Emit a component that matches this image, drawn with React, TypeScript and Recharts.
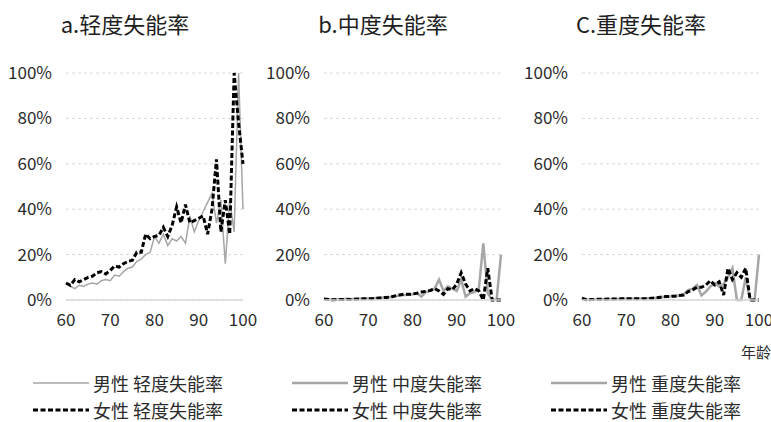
import React from 'react';
import { LineChart, Line, XAxis, YAxis, CartesianGrid } from 'recharts';

const ages = [60, 61, 62, 63, 64, 65, 66, 67, 68, 69, 70, 71, 72, 73, 74, 75, 76, 77, 78, 79, 80, 81, 82, 83, 84, 85, 86, 87, 88, 89, 90, 91, 92, 93, 94, 95, 96, 97, 98, 99, 100];

const mildMale = [7, 6, 5, 6.5, 6, 7, 7.5, 7, 8.5, 9, 8.5, 11, 10.5, 12.5, 14, 14.5, 17, 18, 20, 21, 28, 25, 29, 24, 27, 26, 28, 25, 37, 30, 35, 39, 43, 47, 34, 44, 16, 44, 30, 100, 40];
const mildFemale = [7.5, 6.5, 9, 8, 9, 10, 10.5, 12, 12.5, 11.5, 13, 15, 14.5, 16, 17, 17.5, 21, 21, 29, 27, 28, 28.5, 32, 28, 33, 41, 34, 42, 34, 35, 36, 37, 29, 40, 62, 30, 44, 29, 100, 78, 60];

const moderateMale = [0.5, 0.2, 0.3, 0.2, 0.3, 0.4, 0.3, 0.5, 0.6, 0.5, 0.7, 0.8, 0.9, 1, 1.2, 1.3, 1.5, 2, 2.2, 2.3, 2.5, 3, 1.5, 3.5, 4, 5, 9, 4, 6, 5, 4, 9, 1.5, 3, 3.5, 5, 25, 3, 0, 0, 20];
const moderateFemale = [0.5, 0.2, 0.1, 0.2, 0.2, 0.3, 0.2, 0.3, 0.4, 0.5, 0.6, 0.6, 0.8, 1, 1.1, 1.2, 1.8, 2.2, 2.5, 2.5, 2.6, 3, 3.5, 3.8, 4.2, 5, 4, 2.5, 5, 4.5, 7, 12, 7, 4, 5, 4, 0, 14, 0, 0, 0];

const severeMale = [0.5, 0.1, 0.2, 0.2, 0.3, 0.3, 0.3, 0.4, 0.4, 0.5, 0.5, 0.5, 0.6, 0.6, 0.7, 0.8, 0.9, 1, 1.2, 1.5, 1.6, 1.8, 2, 2.5, 4.4, 5, 6.6, 2, 3.7, 6, 7.4, 6, 7, 10, 14, 0, 0, 10, 0, 0, 20];
const severeFemale = [0.8, 0.1, 0.2, 0.3, 0.3, 0.3, 0.4, 0.4, 0.4, 0.5, 0.5, 0.5, 0.6, 0.5, 0.6, 0.6, 0.8, 1, 1.3, 1.5, 1.6, 1.7, 2, 2.2, 3.7, 4.5, 5.6, 5.6, 6.6, 8.5, 6.6, 8, 2.2, 14, 9, 12, 10, 14, 0, 0, 0];

const xTicks = [60, 70, 80, 90, 100];
const yTicks = [0, 20, 40, 60, 80, 100];

const titles = ['a.轻度失能率', 'b.中度失能率', 'C.重度失能率'];
const maleLegend = ['男性 轻度失能率', '男性 中度失能率', '男性 重度失能率'];
const femaleLegend = ['女性 轻度失能率', '女性 中度失能率', '女性 重度失能率'];
const xAxisName = '年龄';

const FONT = '"Noto Sans CJK SC", "Noto Sans", sans-serif';
const TEXT = '#2b2b2b';
const GRAY = '#a6a6a6';

const build = (m: number[], f: number[]) => ages.map((a, i) => ({ age: a, male: m[i], female: f[i] }));
const panels = [
  { data: build(mildMale, mildFemale), maleWidth: 1.5 },
  { data: build(moderateMale, moderateFemale), maleWidth: 2.5 },
  { data: build(severeMale, severeFemale), maleWidth: 2.5 },
];

const PANEL_W = 258;

function Panel({ idx }: { idx: number }) {
  const p = panels[idx];
  return (
    <div style={{ position: 'absolute', left: idx * PANEL_W, top: 0 }}>
      <LineChart width={PANEL_W} height={336} data={p.data} margin={{ top: 73, right: 15, left: 0, bottom: 6 }}>
        <CartesianGrid vertical={false} stroke="#d9d9d9" strokeDasharray="3 3" />
        <XAxis
          dataKey="age"
          type="number"
          domain={[60, 100]}
          ticks={xTicks}
          tickLine={false}
          axisLine={{ stroke: '#d9d9d9', strokeWidth: 1.5 }}
          tick={{ fill: TEXT, fontSize: 17, fontFamily: FONT }}
          tickMargin={8}
          height={30}
          interval={0}
        />
        <YAxis
          domain={[0, 100]}
          ticks={yTicks}
          tickFormatter={(v: number) => `${v}%`}
          tickLine={false}
          axisLine={false}
          tick={{ fill: TEXT, fontSize: 17, fontFamily: FONT }}
          tickMargin={8}
          width={66}
          interval={0}
        />
        <Line dataKey="male" stroke={GRAY} strokeWidth={p.maleWidth} dot={false} isAnimationActive={false} />
        <Line dataKey="female" stroke="#000000" strokeWidth={3} strokeDasharray="5 2.5" dot={false} isAnimationActive={false} />
      </LineChart>
      <div style={{ position: 'absolute', left: 0, width: 250, top: 7, textAlign: 'center', fontFamily: FONT, fontSize: 22, color: '#1e1e1e' }}>
        {titles[idx]}
      </div>
    </div>
  );
}

function LegendItem({ x, y, label, dashed, width }: { x: number; y: number; label: string; dashed: boolean; width: number }) {
  return (
    <div style={{ position: 'absolute', left: x, top: y - 14, height: 28, display: 'flex', alignItems: 'center', fontFamily: FONT, fontSize: 18, lineHeight: '28px', color: TEXT, whiteSpace: 'nowrap' }}>
      <svg width={56} height={28} style={{ display: 'block' }}>
        <line x1={0} y1={14} x2={56} y2={14} stroke={dashed ? '#000' : GRAY} strokeWidth={width} strokeDasharray={dashed ? '5 2.5' : undefined} />
      </svg>
      <span style={{ marginLeft: 4 }}>{label}</span>
    </div>
  );
}

export default function App() {
  const cols = [33, 292, 551];
  return (
    <div style={{ position: 'absolute', left: 0, top: 0, width: 771, height: 422, background: '#fff', overflow: 'hidden' }}>
      <Panel idx={0} />
      <Panel idx={1} />
      <Panel idx={2} />
      <div style={{ position: 'absolute', left: 741, top: 341, fontFamily: FONT, fontSize: 15, color: TEXT }}>{xAxisName}</div>
      {cols.map((cx, i) => (
        <React.Fragment key={i}>
          <LegendItem x={cx} y={383} label={maleLegend[i]} dashed={false} width={i === 0 ? 1.5 : 2.5} />
          <LegendItem x={cx} y={410} label={femaleLegend[i]} dashed={true} width={3} />
        </React.Fragment>
      ))}
    </div>
  );
}
